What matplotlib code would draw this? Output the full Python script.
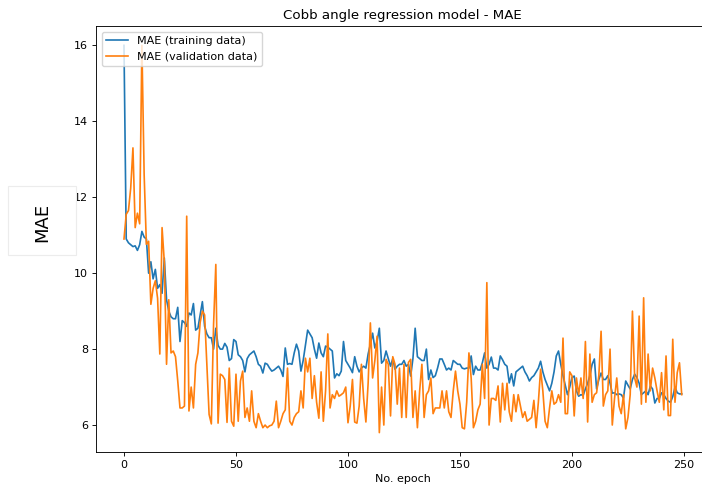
import matplotlib
matplotlib.use("Agg")
import matplotlib.pyplot as plt
from matplotlib.patches import Rectangle

train_mae = [
    16.0, 10.9, 10.8, 10.75, 10.7, 10.72, 10.6, 10.75, 11.1, 10.95,
    10.9, 10.0, 10.3, 9.85, 10.1, 9.6, 9.7, 9.47, 10.4, 9.3,
    9.0, 8.85, 8.8, 8.8, 9.1, 8.2, 8.75, 8.7, 8.6, 8.95,
    8.9, 9.2, 8.5, 8.55, 8.9, 9.25, 8.6, 8.4, 8.3, 8.3,
    8.0, 8.55, 8.1, 8.0, 8.0, 8.15, 8.05, 7.7, 7.75, 8.25,
    8.2, 7.85, 7.8, 7.7, 7.4, 7.75, 7.85, 7.9, 7.95, 7.8,
    7.6, 7.55, 7.37, 7.63, 7.6, 7.5, 7.42, 7.45, 7.5, 7.55,
    7.45, 7.28, 8.03, 7.6, 7.62, 7.6, 7.9, 8.13, 7.95, 7.42,
    7.7, 8.1, 8.5, 8.4, 8.3, 8.0, 7.76, 8.16, 7.9, 7.8,
    8.08, 8.05, 8.0, 7.95, 7.24, 7.35, 7.3, 7.42, 8.2, 7.7,
    7.6, 7.5, 7.38, 7.8, 7.55, 7.4, 7.5, 7.55, 7.5, 7.87,
    8.13, 8.42, 8.03, 8.2, 8.55, 7.63, 7.7, 7.95, 7.75, 7.55,
    7.75, 7.47, 7.55, 7.6, 7.6, 7.7, 7.55, 7.6, 7.29, 7.75,
    8.55, 7.8, 7.75, 7.7, 7.7, 8.0, 7.2, 7.45, 7.25, 7.3,
    7.5, 7.74, 7.74, 7.6, 7.45, 7.5, 7.45, 7.7, 7.65, 7.6,
    7.6, 7.5, 7.48, 7.5, 7.5, 7.82, 7.33, 7.55, 7.45, 7.45,
    7.64, 7.9, 7.5, 7.6, 7.79, 7.5, 7.5, 7.45, 7.82, 7.72,
    7.6, 7.55, 7.11, 7.35, 7.03, 7.4, 7.45, 7.5, 7.55, 7.4,
    7.3, 7.16, 7.25, 7.3, 7.4, 7.5, 7.68, 7.4, 7.2, 7.05,
    6.9, 7.1, 7.4, 7.82, 7.95, 7.6, 7.3, 7.05, 6.8, 7.0,
    7.25, 7.29, 6.9, 6.76, 6.8, 6.78, 6.95, 7.1, 7.3, 7.6,
    7.74, 6.95, 7.2, 7.37, 7.2, 7.2, 7.3, 7.1, 6.84, 6.85,
    6.8, 6.82, 6.8, 6.71, 7.16, 7.05, 6.95, 7.2, 7.34, 7.25,
    7.1, 6.8, 6.85, 6.9, 6.8, 7.03, 6.95, 6.58, 6.7, 6.7,
    6.85, 6.8, 6.7, 6.63, 6.6, 6.75, 7.0, 6.85, 6.82, 6.82,
]

val_mae = [
    10.9, 11.55, 11.65, 12.24, 13.3, 11.2, 11.58, 11.3, 16.0, 12.6,
    10.76, 10.84, 9.18, 9.6, 9.8, 9.34, 7.87, 11.2, 10.3, 7.6,
    9.3, 7.9, 7.95, 7.8, 7.16, 6.45, 6.45, 6.5, 11.5, 6.37,
    7.0, 6.45, 7.6, 7.9, 8.7, 9.0, 8.9, 7.6, 6.28, 6.03,
    8.66, 10.23, 6.05, 7.34, 7.3, 7.2, 6.07, 7.5, 6.1, 5.97,
    7.34, 6.1, 7.16, 7.42, 6.2, 6.45, 6.1, 6.9, 6.1, 5.93,
    6.3, 6.1, 5.93, 6.0, 5.93, 5.98, 6.0, 6.1, 6.63, 5.93,
    6.1, 6.3, 6.4, 7.5, 6.1, 6.0, 6.2, 6.3, 6.35, 6.9,
    6.45, 7.76, 7.4, 7.76, 6.7, 7.3, 6.6, 6.18, 7.4, 6.1,
    6.9, 8.4, 6.45, 6.8, 6.7, 6.9, 6.76, 6.8, 6.85, 7.0,
    6.06, 6.5, 7.2, 6.08, 6.05, 6.5, 7.6, 6.7, 6.08, 7.1,
    8.69, 7.24, 7.7, 8.34, 5.8, 7.0, 6.0, 7.73, 7.6, 6.24,
    7.8, 7.6, 6.55, 7.5, 6.2, 7.6, 6.2, 7.65, 7.73, 6.2,
    6.9, 5.93, 6.9, 7.6, 6.2, 6.8, 6.9, 7.24, 6.3, 6.45,
    6.45, 6.45, 6.9, 6.45, 6.9, 6.35, 6.2, 6.9, 7.42, 6.9,
    6.55, 5.93, 5.9, 6.6, 7.9, 7.24, 5.93, 6.1, 6.4, 6.55,
    7.6, 6.7, 9.75, 6.0, 6.7, 6.7, 6.65, 7.03, 6.08, 7.1,
    6.4, 7.1, 6.35, 6.1, 6.8, 6.35, 6.8, 6.5, 6.2, 6.35,
    6.1, 6.15, 6.2, 6.65, 5.93, 6.6, 7.47, 6.9, 6.1, 5.93,
    6.45, 6.9, 6.55, 6.6, 6.8, 6.6, 8.29, 6.3, 6.3, 7.4,
    7.3, 6.24, 7.24, 6.8, 7.24, 6.7, 8.2, 6.08, 7.87, 6.6,
    6.8, 6.85, 7.3, 8.47, 6.5, 6.8, 6.9, 8.0, 6.0, 6.7,
    7.24, 6.5, 6.3, 6.8, 5.9, 6.2, 6.8, 9.0, 7.24, 7.0,
    8.87, 6.55, 9.35, 6.6, 7.87, 6.9, 7.5, 7.24, 6.9, 6.6,
    7.38, 6.4, 7.82, 6.25, 6.25, 8.26, 6.6, 7.38, 7.64, 6.8,
]

epochs = list(range(len(train_mae)))

s = 0.8  # the reference looks rendered at ~80 dpi scale
plt.rcParams.update({
    "font.size": 10 * s,
    "axes.linewidth": 0.8 * s,
    "xtick.major.width": 0.8 * s,
    "ytick.major.width": 0.8 * s,
    "xtick.major.size": 3.5 * s,
    "ytick.major.size": 3.5 * s,
    "xtick.major.pad": 3.5 * s,
    "ytick.major.pad": 3.5 * s,
    "axes.titlepad": 6 * s,
    "axes.labelpad": 4 * s,
})

W, H = 702, 493
fig = plt.figure(figsize=(W / 100, H / 100), dpi=100)
ax = fig.add_axes([96.1 / W, 41 / H, 613.5 / W, 426 / H])

ax.plot(epochs, train_mae, color="tab:blue", lw=1.5 * s, label="MAE (training data)")
ax.plot(epochs, val_mae, color="tab:orange", lw=1.5 * s, label="MAE (validation data)")

ax.set_title("Cobb angle regression model - MAE", fontsize=12 * s)
ax.set_xlabel("No. epoch", fontsize=10 * s)
ax.set_xticks([0, 50, 100, 150, 200, 250])
ax.set_yticks([6, 8, 10, 12, 14, 16])
ax.tick_params(labelsize=10 * s)
ax.legend(loc="upper left", fontsize=10 * s)

# y-label in a white box overlapping the tick labels
fig.patches.append(Rectangle((8 / W, (H - 255) / H), 68 / W, 69 / H,
                             transform=fig.transFigure, facecolor="white",
                             edgecolor="#ececec", lw=0.8, zorder=5))
fig.text(42 / W, (H - 222) / H, "MAE", rotation=90, fontsize=13,
         ha="center", va="center", zorder=6)

fig.savefig("out.png", dpi=100)
